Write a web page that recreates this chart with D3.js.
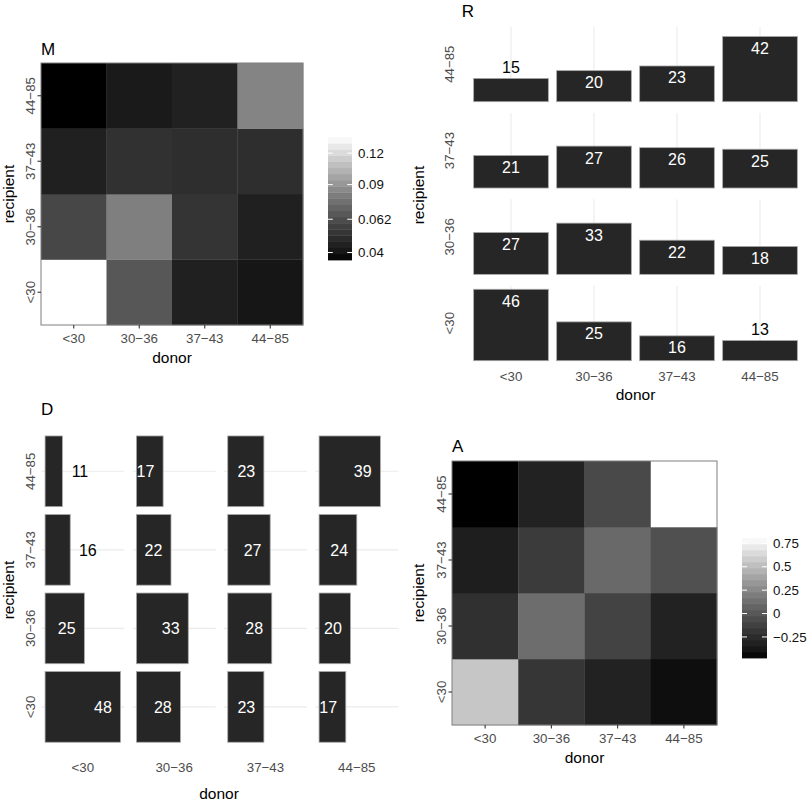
<!DOCTYPE html>
<html>
<head>
<meta charset="utf-8">
<script src="https://cdn.jsdelivr.net/npm/d3@7"></script>
<style>
  html, body { margin: 0; padding: 0; background: #fff; }
  svg { display: block; font-family: "Liberation Sans", Arial, Helvetica, sans-serif; }
</style>
</head>
<body>
<svg id="chart" width="812" height="803"></svg>
<script>
// ---------------- DATA ----------------
const categories = ["<30", "30−36", "37−43", "44−85"];
// rows = recipient (in categories order), columns = donor (in categories order)
const mValues = [
  [0.137, 0.0657, 0.0444, 0.0409],
  [0.0593, 0.0813, 0.0520, 0.0444],
  [0.0444, 0.0508, 0.0500, 0.0498],
  [0.0357, 0.0423, 0.0450, 0.0835]
];
const mLegendTicks = [0.04, 0.062, 0.09, 0.12];
const mLegendLabels = ["0.04", "0.062", "0.09", "0.12"];

const aValues = [
  [0.551, -0.185, -0.306, -0.424],
  [-0.219, 0.115, -0.110, -0.306],
  [-0.328, -0.155, 0.095, -0.039],
  [-0.475, -0.306, -0.078, 0.807]
];
const aLegendTicks = [-0.25, 0, 0.25, 0.5, 0.75];
const aLegendLabels = ["−0.25", "0", "0.25", "0.5", "0.75"];

const rValues = [
  [46, 25, 16, 13],
  [27, 33, 22, 18],
  [21, 27, 26, 25],
  [15, 20, 23, 42]
];
const dValues = [
  [48, 28, 23, 17],
  [25, 33, 28, 20],
  [16, 22, 27, 24],
  [11, 17, 23, 39]
];

// ---------------- DRAWING ----------------
const svg = d3.select("#chart");
const TICK_GREY = "#4d4d4d";
const TICK_FS = 13.3;
const TITLE_FS = 17;
const AXIS_TITLE_FS = 15.5;

function text(g, x, y, str, opts = {}) {
  const t = g.append("text")
    .attr("x", x).attr("y", y)
    .attr("font-size", opts.size || TICK_FS)
    .attr("fill", opts.fill || "#000")
    .attr("text-anchor", opts.anchor || "start")
    .text(str);
  if (opts.rotate) {
    t.attr("x", 0).attr("y", 0).attr("transform", `translate(${x},${y}) rotate(-90)`);
  }
  return t;
}

function cellsOf(values) {
  const out = [];
  values.forEach((row, i) => row.forEach((v, j) => out.push({ r: categories[i], d: categories[j], v })));
  return out;
}

function heatmap(cfg) {
  const g = svg.append("g");
  const x = d3.scaleBand().domain(categories).range([cfg.x0, cfg.x1]);
  const y = d3.scaleBand().domain(categories.slice().reverse()).range([cfg.y0, cfg.y1]);
  const cells = cellsOf(cfg.values);
  const ext = d3.extent(cells, c => c.v);
  const mk = () => (cfg.sqrt ? d3.scaleSqrt() : d3.scaleLinear());
  const color = mk().domain(ext).range(["#000000", "#ffffff"]).interpolate(d3.interpolateLab);

  g.selectAll("rect.cell").data(cells).join("rect")
    .attr("class", "cell")
    .attr("x", c => x(c.d)).attr("y", c => y(c.r))
    .attr("width", x.bandwidth() + 0.3).attr("height", y.bandwidth() + 0.3)
    .attr("fill", c => color(c.v));
  g.append("rect")
    .attr("x", cfg.x0).attr("y", cfg.y0)
    .attr("width", cfg.x1 - cfg.x0).attr("height", cfg.y1 - cfg.y0)
    .attr("fill", "none").attr("stroke", "#7f7f7f").attr("stroke-width", 1);

  // axes
  const ax = g.append("g").attr("transform", `translate(0,${cfg.y1})`)
    .call(d3.axisBottom(x).tickSize(3.5));
  ax.select(".domain").remove();
  ax.selectAll("line").attr("stroke", "#333").attr("stroke-width", 1.1);
  ax.selectAll("text").attr("y", cfg.xLabBase - cfg.y1).attr("dy", null)
    .attr("font-size", TICK_FS).attr("fill", TICK_GREY).attr("font-family", null);

  const ay = g.append("g").attr("transform", `translate(${cfg.x0},0)`)
    .call(d3.axisLeft(y).tickSize(3.5));
  ay.select(".domain").remove();
  ay.selectAll("line").attr("stroke", "#333").attr("stroke-width", 1.1);
  ay.selectAll("text").attr("x", null).attr("dy", null)
    .attr("text-anchor", "middle")
    .attr("transform", `translate(${cfg.yLabBase - cfg.x0},0) rotate(-90)`)
    .attr("font-size", TICK_FS).attr("fill", TICK_GREY).attr("font-family", null);

  text(g, (cfg.x0 + cfg.x1) / 2, cfg.xTitleBase, "donor", { size: AXIS_TITLE_FS, anchor: "middle" });
  text(g, cfg.yTitleBase, (cfg.y0 + cfg.y1) / 2, "recipient", { size: AXIS_TITLE_FS, anchor: "middle", rotate: true });
  text(g, cfg.x0, cfg.titleBase, cfg.title, { size: TITLE_FS });

  // colour bar legend
  const L = cfg.legend;
  const ly = mk().domain(ext).range([L.y1, L.y0]);
  const nbin = 20;
  const bins = d3.range(nbin);
  const bh = (L.y1 - L.y0) / nbin;
  g.selectAll("rect.bin").data(bins).join("rect")
    .attr("class", "bin")
    .attr("x", L.x0).attr("width", L.x1 - L.x0)
    .attr("y", k => L.y1 - (k + 1) * bh).attr("height", bh + 0.4)
    .attr("fill", k => color(ly.invert(L.y1 - (k + 0.5) * bh)));
  const tw = (L.x1 - L.x0) / 5;
  cfg.ticks.forEach((t, i) => {
    const yy = ly(t);
    g.append("line").attr("x1", L.x0).attr("x2", L.x0 + tw).attr("y1", yy).attr("y2", yy)
      .attr("stroke", "#fff").attr("stroke-width", 1);
    g.append("line").attr("x1", L.x1 - tw).attr("x2", L.x1).attr("y1", yy).attr("y2", yy)
      .attr("stroke", "#fff").attr("stroke-width", 1);
    text(g, L.x1 + 6, yy + 4.7, cfg.tickLabels[i], { size: TICK_FS, fill: "#111" });
  });
}

// ---- Panel M ----
heatmap({
  title: "M", titleBase: 55,
  x0: 41, x1: 303, y0: 63, y1: 325,
  values: mValues, sqrt: true,
  xLabBase: 343.3, xTitleBase: 363.3, yLabBase: 34.5, yTitleBase: 13.5,
  legend: { x0: 328, x1: 352, y0: 137, y1: 260 },
  ticks: mLegendTicks, tickLabels: mLegendLabels
});

// ---- Panel A ----
heatmap({
  title: "A", titleBase: 451.7,
  x0: 452, x1: 717, y0: 461, y1: 725,
  values: aValues, sqrt: false,
  xLabBase: 743.3, xTitleBase: 762.7, yLabBase: 446, yTitleBase: 424,
  legend: { x0: 742, x1: 767, y0: 538, y1: 658 },
  ticks: aLegendTicks, tickLabels: aLegendLabels
});

// ---- Panel R : faceted vertical bars ----
(function () {
  const g = svg.append("g");
  const rowOrder = categories.slice().reverse();
  const rx = d3.scalePoint().domain(categories).range([511, 760]);
  const bw = 0.9 * rx.step();
  const rowBand = d3.scaleBand().domain(rowOrder).range([26.7, 360.7]).paddingInner(0.1313);
  const maxV = d3.max(rValues.flat());
  const ry = d3.scaleLinear().domain([0, maxV * 1.05]).range([rowBand.bandwidth(), 0]);

  rowOrder.forEach(rc => {
    const top = rowBand(rc);
    categories.forEach(dc => {
      g.append("line").attr("x1", rx(dc)).attr("x2", rx(dc))
        .attr("y1", top).attr("y2", top + rowBand.bandwidth())
        .attr("stroke", "#ebebeb").attr("stroke-width", 1.1);
    });
  });
  const cells = cellsOf(rValues);
  g.selectAll("rect.bar").data(cells).join("rect")
    .attr("class", "bar")
    .attr("x", c => rx(c.d) - bw / 2)
    .attr("y", c => rowBand(c.r) + ry(c.v))
    .attr("width", bw)
    .attr("height", c => rowBand.bandwidth() - ry(c.v))
    .attr("fill", "#262626").attr("stroke", "#a8a8a8").attr("stroke-width", 0.8);
  cells.forEach(c => {
    const topY = rowBand(c.r) + ry(c.v);
    const inside = c.v >= 16;
    text(g, rx(c.d), inside ? topY + 17.4 : topY - 5.4, String(c.v),
      { size: 16, anchor: "middle", fill: inside ? "#fff" : "#000" });
  });
  rowOrder.forEach(rc => {
    text(g, 454, rowBand(rc) + rowBand.bandwidth() / 2, rc, { anchor: "middle", fill: TICK_GREY, rotate: true });
  });
  categories.forEach(dc => text(g, rx(dc), 381, dc, { anchor: "middle", fill: TICK_GREY }));
  text(g, (rx(categories[0]) + rx(categories[3])) / 2, 400, "donor", { size: AXIS_TITLE_FS, anchor: "middle" });
  text(g, 424, 195, "recipient", { size: AXIS_TITLE_FS, anchor: "middle", rotate: true });
  text(g, 461.7, 17.3, "R", { size: TITLE_FS });
})();

// ---- Panel D : faceted horizontal bars ----
(function () {
  const g = svg.append("g");
  const rowOrder = categories.slice().reverse();
  const colBand = d3.scaleBand().domain(categories).range([41.3, 398.3]).paddingInner(0.0912);
  const rowPt = d3.scalePoint().domain(rowOrder).range([471.3, 706.9]);
  const bh = 0.9 * rowPt.step();
  const maxV = d3.max(dValues.flat());
  const dx = d3.scaleLinear().domain([-0.05 * maxV, maxV * 1.05]).range([0, colBand.bandwidth()]);

  categories.forEach(dc => {
    rowOrder.forEach(rc => {
      g.append("line").attr("x1", colBand(dc)).attr("x2", colBand(dc) + colBand.bandwidth())
        .attr("y1", rowPt(rc)).attr("y2", rowPt(rc))
        .attr("stroke", "#ebebeb").attr("stroke-width", 1.1);
    });
  });
  const cells = cellsOf(dValues);
  g.selectAll("rect.bar").data(cells).join("rect")
    .attr("class", "bar")
    .attr("x", c => colBand(c.d) + dx(0))
    .attr("y", c => rowPt(c.r) - bh / 2)
    .attr("width", c => dx(c.v) - dx(0))
    .attr("height", bh)
    .attr("fill", "#262626").attr("stroke", "#a8a8a8").attr("stroke-width", 0.8);
  cells.forEach(c => {
    const inside = c.v >= 17;
    const lx = colBand(c.d) + dx(inside ? c.v - 11.2 : c.v + 11.2);
    text(g, lx, rowPt(c.r) + 6, String(c.v),
      { size: 16, anchor: "middle", fill: inside ? "#fff" : "#000" });
  });
  rowOrder.forEach(rc => text(g, 35, rowPt(rc), rc, { anchor: "middle", fill: TICK_GREY, rotate: true }));
  categories.forEach(dc => text(g, colBand(dc) + colBand.bandwidth() / 2, 771.7, dc, { anchor: "middle", fill: TICK_GREY }));
  text(g, 219, 799.3, "donor", { size: AXIS_TITLE_FS, anchor: "middle" });
  text(g, 13.5, 590, "recipient", { size: AXIS_TITLE_FS, anchor: "middle", rotate: true });
  text(g, 41, 415, "D", { size: TITLE_FS });
})();
</script>
</body>
</html>
